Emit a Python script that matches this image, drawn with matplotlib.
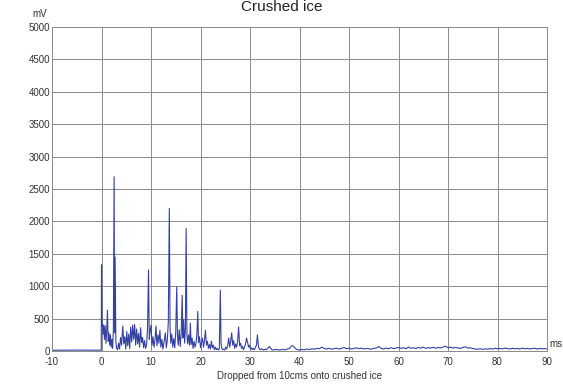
import matplotlib
matplotlib.use('Agg')
import matplotlib.pyplot as plt

plt.rcParams['font.family'] = ['Liberation Sans', 'DejaVu Sans']
plt.rcParams['axes.unicode_minus'] = False

# signal samples as (ms, mV) pairs
pre_trigger = [(-10.0, 12), (-5.0, 14), (-0.05, 12)]

first_burst = [(0.0, 1330), (0.1, 380), (0.2, 420), (0.3, 260), (0.45, 400), (0.6, 180),
               (0.75, 390), (0.9, 120), (1.05, 300), (1.2, 630), (1.35, 150), (1.5, 280),
               (1.65, 90), (1.8, 250), (1.95, 60), (2.1, 180), (2.25, 40), (2.4, 320),
               (2.55, 2690), (2.65, 280), (2.75, 1450), (2.9, 150), (3.05, 40), (3.25, 20),
               (3.45, 120), (3.65, 30), (3.85, 210), (4.05, 90), (4.3, 385), (4.5, 110),
               (4.7, 220), (4.9, 30), (5.1, 300), (5.3, 80), (5.5, 260), (5.7, 40),
               (5.9, 370), (6.1, 140), (6.3, 400), (6.5, 180), (6.7, 410), (6.9, 90),
               (7.1, 340), (7.3, 110), (7.5, 270), (7.7, 60), (7.9, 360), (8.1, 130),
               (8.3, 210), (8.5, 50), (8.7, 160), (8.9, 40)]

second_burst = [(9.1, 90), (9.3, 360), (9.5, 1250), (9.65, 180), (9.8, 300), (10.0, 400),
                (10.2, 90), (10.4, 220), (10.6, 60), (10.8, 170), (11.0, 385), (11.2, 80),
                (11.4, 250), (11.6, 120), (11.8, 320), (12.0, 60), (12.2, 180), (12.4, 30),
                (12.6, 120), (12.9, 280), (13.1, 50), (13.3, 170), (13.5, 450), (13.7, 2200),
                (13.85, 350), (14.0, 120), (14.2, 260), (14.4, 60), (14.6, 190), (14.8, 50),
                (15.0, 300), (15.2, 990), (15.35, 240), (15.5, 90), (15.7, 330), (15.9, 70),
                (16.1, 280), (16.3, 860), (16.45, 200), (16.6, 480), (16.8, 120), (16.95, 350),
                (17.1, 1890), (17.25, 260), (17.4, 110), (17.6, 250), (17.8, 90), (17.95, 430),
                (18.1, 100), (18.3, 200), (18.5, 40), (18.7, 150), (18.9, 60), (19.1, 120),
                (19.3, 300), (19.45, 610), (19.6, 130), (19.8, 220), (20.0, 50)]

third_burst = [(20.2, 140), (20.4, 200), (20.6, 60), (20.8, 160), (21.0, 320), (21.2, 90),
               (21.4, 150), (21.6, 40), (21.8, 100), (22.0, 30), (22.2, 150), (22.4, 50),
               (22.6, 90), (22.8, 20), (23.0, 60), (23.2, 20), (23.4, 40), (23.6, 15),
               (23.8, 30), (24.0, 940), (24.15, 120), (24.3, 40), (24.5, 20), (24.7, 30),
               (24.9, 15), (25.1, 60), (25.3, 30), (25.5, 90), (25.7, 200), (25.9, 60),
               (26.1, 150), (26.3, 280), (26.5, 90), (26.7, 160), (26.9, 40), (27.1, 110),
               (27.3, 60), (27.5, 150), (27.7, 370), (27.9, 80), (28.1, 120), (28.3, 40),
               (28.5, 70), (28.7, 20), (28.9, 60), (29.1, 110), (29.3, 200), (29.5, 140),
               (29.7, 60), (29.9, 90), (30.1, 30), (30.3, 50), (30.5, 20), (30.7, 40),
               (30.9, 20), (31.1, 60), (31.3, 90), (31.5, 250), (31.7, 70), (31.9, 30),
               (32.1, 20), (32.4, 35), (32.7, 15), (33.0, 25), (33.3, 20), (33.6, 40),
               (33.9, 70), (34.1, 50), (34.4, 20)]

tail = [(34.8, 15), (35.2, 25), (35.6, 20), (36.0, 15), (36.5, 25), (37.0, 18), (37.5, 30),
        (38.0, 40), (38.4, 80), (38.8, 75), (39.2, 35), (39.6, 20), (40.0, 15), (40.5, 25),
        (41.0, 20), (41.5, 30), (42.0, 22), (42.5, 35), (43.0, 28), (43.5, 40), (44.0, 35),
        (44.5, 60), (45.0, 38), (45.5, 30), (46.0, 42), (46.5, 28), (47.0, 35), (47.5, 45),
        (48.0, 30), (48.5, 40), (49.0, 55), (49.5, 35), (50.0, 45), (50.5, 30), (51.0, 40),
        (51.5, 50), (52.0, 35), (52.5, 45), (53.0, 30), (53.5, 40), (54.0, 35), (54.5, 28),
        (55.0, 40), (55.5, 45), (56.0, 70), (56.5, 40), (57.0, 30), (57.5, 45), (58.0, 35),
        (58.5, 50), (59.0, 38), (59.5, 45), (60.0, 55), (60.5, 40), (61.0, 50), (61.5, 35),
        (62.0, 60), (62.5, 42), (63.0, 50), (63.5, 38), (64.0, 55), (64.5, 45), (65.0, 60),
        (65.5, 40), (66.0, 52), (66.5, 45), (67.0, 58), (67.5, 42), (68.0, 55), (68.5, 48),
        (69.0, 62), (69.5, 75), (70.0, 50), (70.5, 60), (71.0, 45), (71.5, 55), (72.0, 48),
        (72.5, 40), (73.0, 55), (73.5, 65), (74.0, 45), (74.5, 50), (75.0, 38), (75.5, 30),
        (76.0, 28), (76.5, 35), (77.0, 25), (77.5, 32), (78.0, 28), (78.5, 38), (79.0, 30),
        (79.5, 42), (80.0, 35), (80.5, 40), (81.0, 32), (81.5, 45), (82.0, 38), (82.5, 30),
        (83.0, 42), (83.5, 35), (84.0, 40), (84.5, 30), (85.0, 45), (85.5, 35), (86.0, 40),
        (86.5, 32), (87.0, 38), (87.5, 42), (88.0, 30), (88.5, 40), (89.0, 35), (89.5, 38),
        (90.0, 32)]

x_ticks = list(range(-10, 91, 10))
y_ticks = list(range(0, 5001, 500))

samples = pre_trigger + first_burst + second_burst + third_burst + tail
t_ms = [s[0] for s in samples]
mv = [s[1] for s in samples]

fig = plt.figure(figsize=(5.63, 3.85), dpi=100)
ax = fig.add_axes([52 / 563, 34 / 385, 495 / 563, 324 / 385])

ax.plot(t_ms, mv, color='#3540a3', lw=0.8)

ax.set_xlim(-10, 90)
ax.set_ylim(0, 5000)
ax.set_xticks(x_ticks)
ax.set_yticks(y_ticks)
ax.grid(True, color='#8a8a8a', lw=0.7)
ax.set_axisbelow(True)
for sp in ax.spines.values():
    sp.set_color('#8a8a8a')
    sp.set_linewidth(0.7)
ax.tick_params(length=0, labelsize=7, colors='#333333')
ax.tick_params(axis='x', pad=4)
ax.tick_params(axis='y', pad=1.5)

ax.set_xlabel('Dropped from 10cms onto crushed ice', fontsize=7, color='#333333', labelpad=3)
fig.text(40 / 563, 1 - 14 / 385, 'mV', fontsize=7, color='#333333', ha='center', va='center')
fig.text(549 / 563, 1 - 344 / 385, 'ms', fontsize=7, color='#333333', ha='left', va='center')
fig.text(0.5, 1 - 11 / 385, 'Crushed ice', fontsize=11, color='#222222', ha='center', va='baseline')

fig.savefig('out.png', dpi=100)
